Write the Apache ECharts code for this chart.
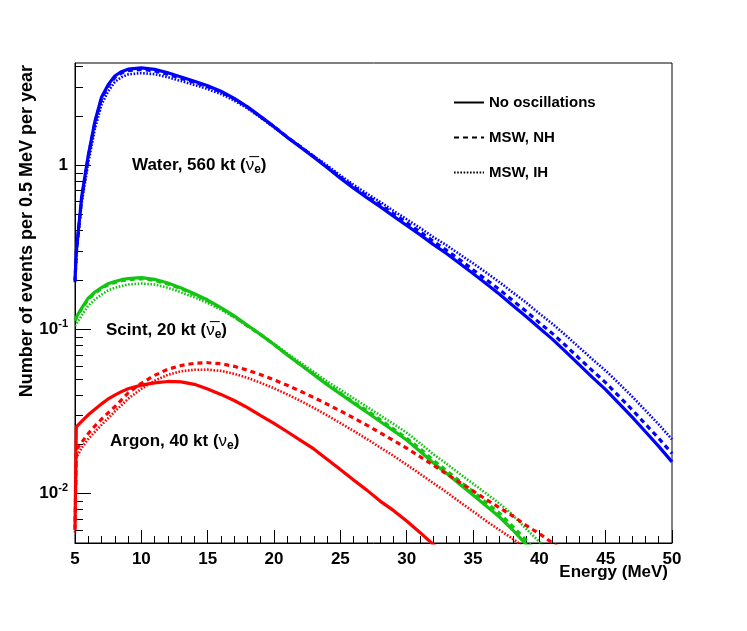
<!DOCTYPE html>
<html>
<head>
<meta charset="utf-8">
<script src="https://cdn.jsdelivr.net/npm/echarts@6/dist/echarts.min.js"></script>
<style>
  html, body { margin: 0; padding: 0; background: #fff; }
  #chart { width: 747px; height: 631px; }
</style>
</head>
<body>
<div id="chart"></div>
<script>
// energy grid (MeV)
var energy = [5, 5.1, 5.5, 6, 6.5, 7, 7.5, 8, 8.5, 9, 10, 11, 12, 13, 14, 15, 16, 17, 18, 19, 20,
  21, 22, 23, 24, 25, 26, 27, 28, 29, 30, 31, 32, 33, 34, 35, 36, 37, 38, 39, 40,
  41, 42, 43, 44, 45, 46, 47, 48, 49, 50];

// Water, 560 kt (anti-nu_e)
var waterNoOsc = [0.20, 0.30, 0.64, 1.15, 1.85, 2.6, 3.1, 3.5, 3.72, 3.85, 3.92, 3.84, 3.66, 3.45, 3.25, 3.05, 2.83, 2.56, 2.27, 1.98, 1.72,
  1.48, 1.29, 1.12, 0.97, 0.835, 0.725, 0.635, 0.56, 0.49, 0.43, 0.378, 0.33, 0.29, 0.252, 0.219, 0.19, 0.164, 0.14, 0.12, 0.102,
  0.087, 0.073, 0.061, 0.051, 0.043, 0.0355, 0.0292, 0.0238, 0.0194, 0.0156];
var waterNH = [0.196, 0.294, 0.627, 1.127, 1.813, 2.548, 3.038, 3.43, 3.646, 3.773, 3.842, 3.763, 3.587, 3.39, 3.2, 3.01, 2.8, 2.54, 2.26, 1.97, 1.72,
  1.485, 1.296, 1.128, 0.98, 0.848, 0.74, 0.651, 0.577, 0.507, 0.447, 0.394, 0.345, 0.304, 0.266, 0.231, 0.201, 0.175, 0.15, 0.129, 0.11,
  0.0943, 0.0796, 0.0667, 0.0561, 0.0474, 0.0392, 0.0324, 0.0265, 0.0217, 0.01755];
var waterIH = [0.194, 0.285, 0.589, 1.035, 1.665, 2.34, 2.821, 3.22, 3.441, 3.581, 3.646, 3.59, 3.44, 3.26, 3.09, 2.91, 2.72, 2.48, 2.22, 1.95, 1.70,
  1.48, 1.30, 1.14, 0.999, 0.868, 0.761, 0.673, 0.599, 0.529, 0.469, 0.416, 0.366, 0.326, 0.287, 0.253, 0.222, 0.194, 0.168, 0.146, 0.125,
  0.108, 0.092, 0.0778, 0.0658, 0.0561, 0.0469, 0.039, 0.0321, 0.0264, 0.0214];

// Scint, 20 kt (anti-nu_e)
var scintNoOsc = [0.115, 0.119, 0.135, 0.155, 0.169, 0.180, 0.19, 0.196, 0.201, 0.204, 0.207, 0.202, 0.192, 0.179, 0.165, 0.151, 0.136, 0.121, 0.106, 0.093, 0.081,
  0.070, 0.061, 0.053, 0.046, 0.0405, 0.0356, 0.0313, 0.0275, 0.0242, 0.0212, 0.0181, 0.0154, 0.0133, 0.0114, 0.0098, 0.0084, 0.0072, 0.0060, 0.0049, 0.0040];
var scintNH = [0.1133, 0.1172, 0.133, 0.1527, 0.1665, 0.1773, 0.1872, 0.1931, 0.198, 0.2009, 0.2039, 0.199, 0.1891, 0.1772, 0.1634, 0.1495, 0.1346, 0.1198, 0.1049, 0.093, 0.081,
  0.070, 0.061, 0.0535, 0.0465, 0.0409, 0.036, 0.0321, 0.0282, 0.0248, 0.0217, 0.0188, 0.016, 0.0138, 0.0119, 0.0103, 0.0088, 0.0076, 0.0063, 0.0052, 0.0042];
var scintIH = [0.1047, 0.1083, 0.1215, 0.1395, 0.1521, 0.1629, 0.1729, 0.1793, 0.1839, 0.1877, 0.1904, 0.1879, 0.1795, 0.1683, 0.1568, 0.145, 0.1319, 0.1186, 0.1049, 0.093, 0.0818,
  0.0714, 0.0628, 0.0551, 0.0483, 0.0429, 0.0381, 0.0338, 0.03, 0.0266, 0.0235, 0.0203, 0.0174, 0.0152, 0.0132, 0.0115, 0.01, 0.0087, 0.0074, 0.0061, 0.0051, 0.0041];

// Argon, 40 kt (nu_e)
var argonNoOsc = [0.0062, 0.0255, 0.0275, 0.0302, 0.0326, 0.0352, 0.0377, 0.0398, 0.0418, 0.0435, 0.0458, 0.0473, 0.0482, 0.0479, 0.0463, 0.0434, 0.0402, 0.0369, 0.0334, 0.0299, 0.0268,
  0.0238, 0.0211, 0.0187, 0.0162, 0.0140, 0.0121, 0.0105, 0.0090, 0.0079, 0.0068, 0.0058, 0.0049, 0.0042];
var argonNH = [0.0060, 0.0185, 0.0205, 0.0232, 0.0258, 0.0284, 0.031, 0.0338, 0.0372, 0.041, 0.047, 0.0525, 0.0572, 0.0603, 0.0622, 0.0627, 0.0618, 0.0596, 0.0565, 0.053, 0.0493,
  0.0457, 0.042, 0.0385, 0.0351, 0.0319, 0.0289, 0.0261, 0.0235, 0.0211, 0.0189, 0.0168, 0.0149, 0.0132, 0.0117, 0.0104, 0.0092, 0.0082, 0.0073, 0.0064, 0.0057,
  0.0050, 0.0044];
var argonIH = [0.0058, 0.0165, 0.019, 0.0215, 0.0238, 0.0262, 0.0288, 0.0316, 0.0345, 0.0378, 0.0435, 0.0487, 0.053, 0.0556, 0.0568, 0.0569, 0.0559, 0.0537, 0.0507, 0.0473, 0.0438,
  0.0402, 0.0367, 0.0333, 0.0300, 0.0269, 0.0241, 0.0215, 0.0191, 0.017, 0.015, 0.0132, 0.0116, 0.0102, 0.0089, 0.0078, 0.0068, 0.006, 0.0053, 0.0046, 0.0040];

var yMajor = [0.01, 0.1, 1];
var yMinor = [0.005, 0.006, 0.007, 0.008, 0.009, 0.02, 0.03, 0.04, 0.05, 0.06, 0.07, 0.08, 0.09,
  0.2, 0.3, 0.4, 0.5, 0.6, 0.7, 0.8, 0.9, 2, 3, 4];
var legendNames = ['No oscillations', 'MSW, NH', 'MSW, IH'];

var FONT = '"Liberation Sans", Arial, Helvetica, sans-serif';
var BLUE = '#0000ff', GREEN = '#13c413', RED = '#ff0000';
var STYLES = {
  solid: { type: 'solid', width: 3.2 },
  dashed: { type: [5, 4], width: 3.2 },
  dotted: { type: [1.6, 1.6], width: 2.6 }
};

function pairs(vals) {
  return vals.map(function (v, i) { return [energy[i], v]; });
}

function curve(name, vals, color, kind) {
  return {
    name: name,
    type: 'line',
    data: pairs(vals),
    showSymbol: false,
    symbol: 'none',
    smooth: false,
    silent: true,
    clip: true,
    lineStyle: { color: color, width: STYLES[kind].width, type: STYLES[kind].type }
  };
}

// black entries only used for the legend
function legendSeries(name, kind) {
  return {
    name: name,
    type: 'line',
    data: [],
    symbol: 'none',
    symbolSize: 0,
    itemStyle: { color: '#000' },
    lineStyle: { color: '#000', width: STYLES[kind].width, type: STYLES[kind].type }
  };
}

var myChart = echarts.init(document.getElementById('chart'));

var option = {
  backgroundColor: '#fff',
  animation: false,
  grid: {
    left: 75, right: 75, top: 63, bottom: 88,
    show: true, borderColor: '#000', borderWidth: 1,
    containLabel: false, outerBoundsMode: 'none'
  },
  legend: {
    data: legendNames,
    orient: 'vertical',
    left: 448,
    top: 90,
    itemWidth: 30,
    itemHeight: 14,
    itemGap: 20,
    itemStyle: { color: 'rgba(0,0,0,0)', borderWidth: 0, opacity: 0 },
    textStyle: { fontFamily: FONT, fontWeight: 'bold', fontSize: 15, color: '#000' }
  },
  xAxis: {
    type: 'value',
    min: 5,
    max: 50,
    interval: 5,
    axisLine: { show: true, lineStyle: { color: '#000', width: 1 } },
    axisTick: { show: true, inside: true, length: 13, lineStyle: { color: '#000' } },
    minorTick: { show: true, splitNumber: 5, length: 7, lineStyle: { color: '#000' } },
    splitLine: { show: false },
    axisLabel: { margin: 8, fontFamily: FONT, fontWeight: 'bold', fontSize: 17, color: '#000' }
  },
  yAxis: [{
    type: 'log',
    logBase: 10,
    min: 0.005,
    max: 4.2,
    axisLine: { show: true, lineStyle: { color: '#000', width: 1 } },
    axisTick: { show: true, inside: true, length: 16, customValues: yMajor, lineStyle: { color: '#000' } },
    splitLine: { show: false },
    axisLabel: {
      customValues: yMajor,
      margin: 7,
      formatter: function (v) {
        var p = Math.round(Math.log10(v));
        return p === 0 ? '{m|1}' : '{m|10}{s|' + p + '}';
      },
      rich: {
        m: { fontFamily: FONT, fontWeight: 'bold', fontSize: 17, color: '#000', lineHeight: 22 },
        s: { fontFamily: FONT, fontWeight: 'bold', fontSize: 11, color: '#000', verticalAlign: 'top', lineHeight: 14 }
      }
    }
  }, {
    type: 'log',
    logBase: 10,
    min: 0.005,
    max: 4.2,
    position: 'left',
    axisLine: { show: false },
    axisTick: { show: true, inside: true, length: 8, customValues: yMinor, lineStyle: { color: '#000' } },
    splitLine: { show: false },
    axisLabel: { show: false }
  }],
  series: [
    legendSeries('No oscillations', 'solid'),
    legendSeries('MSW, NH', 'dashed'),
    legendSeries('MSW, IH', 'dotted'),
    curve('Water IH', waterIH, BLUE, 'dotted'),
    curve('Water NH', waterNH, BLUE, 'dashed'),
    curve('Water no osc', waterNoOsc, BLUE, 'solid'),
    curve('Scint IH', scintIH, GREEN, 'dotted'),
    curve('Scint NH', scintNH, GREEN, 'dashed'),
    curve('Scint no osc', scintNoOsc, GREEN, 'solid'),
    curve('Argon IH', argonIH, RED, 'dotted'),
    curve('Argon NH', argonNH, RED, 'dashed'),
    curve('Argon no osc', argonNoOsc, RED, 'solid')
  ],
  graphic: [
    {
      type: 'text', x: 27, y: 65, rotation: Math.PI / 2,
      style: {
        text: 'Number of events per 0.5 MeV per year',
        fontFamily: FONT, fontWeight: 'bold', fontSize: 18, fill: '#000',
        align: 'right', verticalAlign: 'middle'
      }
    },
    {
      type: 'text', x: 668, y: 572,
      style: {
        text: 'Energy (MeV)',
        fontFamily: FONT, fontWeight: 'bold', fontSize: 17, fill: '#000',
        align: 'right', verticalAlign: 'middle'
      }
    },
    {
      type: 'text', x: 132, y: 165,
      style: {
        text: '{b|Water, 560 kt (}{nu|ν\u0305}{sub|e}{b|)}',
        verticalAlign: 'middle',
        rich: {
          b: { fontFamily: FONT, fontWeight: 'bold', fontSize: 17, fill: '#000', lineHeight: 22 },
          nu: { fontFamily: FONT, fontWeight: 'normal', fontSize: 17, fill: '#000', lineHeight: 22 },
          sub: { fontFamily: FONT, fontWeight: 'bold', fontSize: 12, fill: '#000', verticalAlign: 'bottom', lineHeight: 12 }
        }
      }
    },
    {
      type: 'text', x: 106, y: 330,
      style: {
        text: '{b|Scint, 20 kt (}{nu|ν\u0305}{sub|e}{b|)}',
        verticalAlign: 'middle',
        rich: {
          b: { fontFamily: FONT, fontWeight: 'bold', fontSize: 17, fill: '#000', lineHeight: 22 },
          nu: { fontFamily: FONT, fontWeight: 'normal', fontSize: 17, fill: '#000', lineHeight: 22 },
          sub: { fontFamily: FONT, fontWeight: 'bold', fontSize: 12, fill: '#000', verticalAlign: 'bottom', lineHeight: 12 }
        }
      }
    },
    {
      type: 'text', x: 110, y: 441,
      style: {
        text: '{b|Argon, 40 kt (}{nu|ν}{sub|e}{b|)}',
        verticalAlign: 'middle',
        rich: {
          b: { fontFamily: FONT, fontWeight: 'bold', fontSize: 17, fill: '#000', lineHeight: 22 },
          nu: { fontFamily: FONT, fontWeight: 'normal', fontSize: 17, fill: '#000', lineHeight: 22 },
          sub: { fontFamily: FONT, fontWeight: 'bold', fontSize: 12, fill: '#000', verticalAlign: 'bottom', lineHeight: 12 }
        }
      }
    }
  ]
};

myChart.setOption(option);
</script>
</body>
</html>
